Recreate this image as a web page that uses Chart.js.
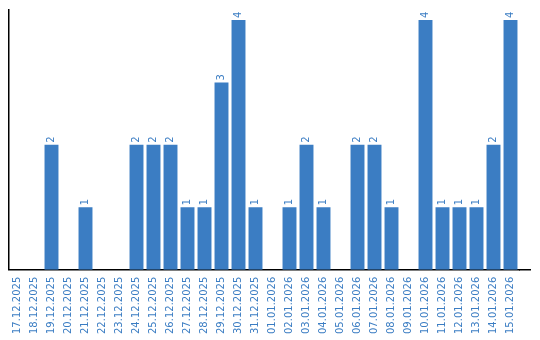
<!DOCTYPE html>
<html>
<head>
<meta charset="utf-8">
<script src="https://cdn.jsdelivr.net/npm/chart.js@4"></script>
<style>
  body { margin: 0; background: #fff; }
  #wrap { width: 540px; height: 340px; }
</style>
</head>
<body>
<div id="wrap"><canvas id="chart"></canvas></div>
<script>
const DAYS = ['17.12.2025','18.12.2025','19.12.2025','20.12.2025','21.12.2025','22.12.2025','23.12.2025',
  '24.12.2025','25.12.2025','26.12.2025','27.12.2025','28.12.2025','29.12.2025','30.12.2025','31.12.2025',
  '01.01.2026','02.01.2026','03.01.2026','04.01.2026','05.01.2026','06.01.2026','07.01.2026','08.01.2026',
  '09.01.2026','10.01.2026','11.01.2026','12.01.2026','13.01.2026','14.01.2026','15.01.2026'];
const COUNTS = [0,0,2,0,1,0,0,2,2,2,1,1,3,4,1,0,1,2,1,0,2,2,1,0,4,1,1,1,2,4];

const BLUE = '#3b7dc3';

// value above each bar, rotated like the labels
const value_labels = {
    id: 'value_labels',
    afterDatasetsDraw(chart){
        let ctx = chart.ctx;
        let meta = chart.getDatasetMeta(0);
        ctx.save();
        ctx.fillStyle = BLUE;
        ctx.font = '10px "DejaVu Sans"';
        ctx.textAlign = 'left';
        ctx.textBaseline = 'middle';
        meta.data.forEach((bar, i) => {
            if (COUNTS[i] == 0) return;
            ctx.save();
            ctx.translate(bar.x, bar.y - 2);
            ctx.rotate(-Math.PI / 2);
            ctx.fillText(String(COUNTS[i]), 0, 0);
            ctx.restore();
        });
        ctx.restore();
    }
};

// the x axis line runs a bit past the last bar
const axis_extension = {
    id: 'axis_extension',
    afterDraw(chart){
        let ctx = chart.ctx;
        let area = chart.chartArea;
        ctx.save();
        ctx.strokeStyle = '#000';
        ctx.lineWidth = 1.5;
        ctx.beginPath();
        ctx.moveTo(area.right, area.bottom);
        ctx.lineTo(531, area.bottom);
        ctx.stroke();
        ctx.restore();
    }
};

new Chart(document.getElementById('chart'), {
    type: 'bar',
    data: {
        labels: DAYS,
        datasets: [{
            data: COUNTS,
            backgroundColor: BLUE,
            categoryPercentage: 1,
            barPercentage: 0.82
        }]
    },
    options: {
        responsive: true,
        maintainAspectRatio: false,
        animation: false,
        layout: { padding: { left: 9, right: 21, top: 10, bottom: -1 } },
        plugins: { legend: { display: false }, tooltip: { enabled: false } },
        scales: {
            x: {
                grid: { display: false, drawTicks: false },
                border: { display: true, color: '#000', width: 1.5 },
                ticks: {
                    color: BLUE,
                    font: { family: 'DejaVu Sans', size: 10 },
                    minRotation: 90,
                    maxRotation: 90,
                    autoSkip: false,
                    padding: 7
                }
            },
            y: {
                min: 0,
                max: 4.16,
                grid: { display: false, drawTicks: false },
                border: { display: true, color: '#000', width: 1.5 },
                ticks: { display: false }
            }
        }
    },
    plugins: [value_labels, axis_extension]
});
</script>
</body>
</html>
